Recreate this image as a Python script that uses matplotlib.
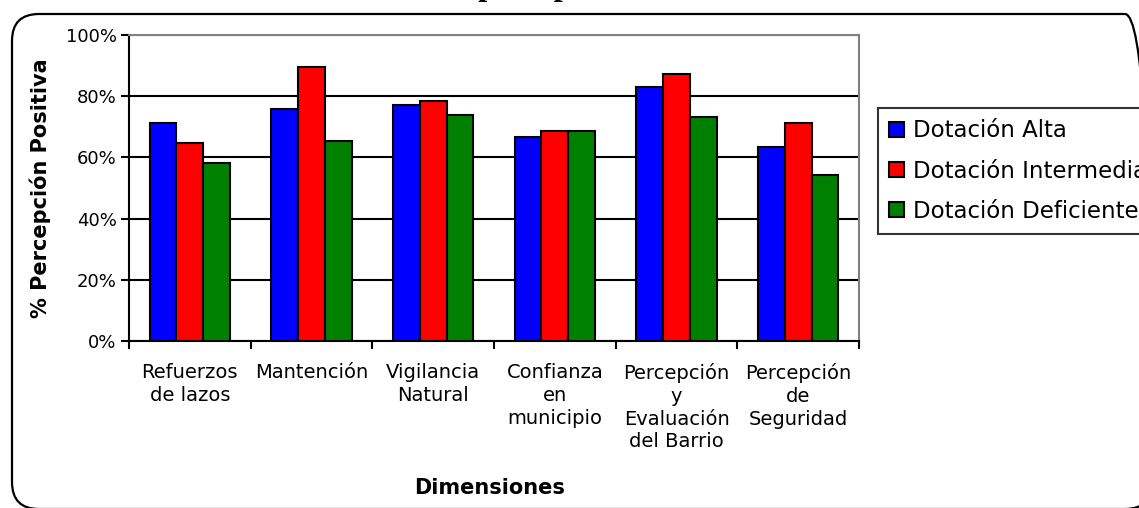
import matplotlib
matplotlib.use("Agg")
import matplotlib.pyplot as plt
import numpy as np
from matplotlib.patches import FancyBboxPatch

categories = ["Refuerzos\nde lazos", "Mantención", "Vigilancia\nNatural",
              "Confianza\nen\nmunicipio", "Percepción\ny\nEvaluación\ndel Barrio",
              "Percepción\nde\nSeguridad"]
series_names = ["Dotación Alta", "Dotación Intermedia", "Dotación Deficiente"]
alta = [71.3, 75.9, 77.2, 66.8, 83.1, 63.5]
intermedia = [64.8, 89.6, 78.5, 68.7, 87.1, 71.3]
deficiente = [58.3, 65.5, 74.0, 68.7, 73.3, 54.3]
yticks = [0, 20, 40, 60, 80, 100]
ytick_labels = ["0%", "20%", "40%", "60%", "80%", "100%"]
title = "Nivel de percepción"
ylabel = "% Percepción Positiva"
xlabel = "Dimensiones"
colors = ["#0000FF", "#FF0000", "#008000"]

W, H = 1139, 508
fig = plt.figure(figsize=(W / 100, H / 100), dpi=100)
plt.rcParams['font.family'] = ['DejaVu Sans']

ax = fig.add_axes([129 / W, 1 - 341 / H, (859 - 129) / W, (341 - 35) / H])

x = np.arange(len(categories))
bw = 0.221
for i, (vals, c, name) in enumerate(zip([alta, intermedia, deficiente], colors, series_names)):
    ax.bar(x + (i - 1) * bw, vals, width=bw, color=c, edgecolor="black",
           linewidth=1.5, label=name, zorder=3)

ax.set_xlim(-0.5, len(categories) - 0.5)
ax.set_ylim(0, 100)
ax.set_yticks(yticks)
ax.set_yticklabels(ytick_labels, fontsize=13)
ax.yaxis.grid(True, color="black", linewidth=1.5, zorder=0)
ax.set_axisbelow(True)

ax.set_xticks(np.arange(-0.5, len(categories), 1.0))
ax.set_xticklabels([])
ax.set_xticks(x, minor=True)
ax.set_xticklabels(categories, minor=True, fontsize=14, linespacing=1.25)
ax.tick_params(axis="x", which="minor", length=0, pad=16)
ax.tick_params(axis="x", which="major", length=6, width=1.5, direction="out")
ax.tick_params(axis="y", length=6, width=1.5, direction="out", pad=3)

for s in ["left", "bottom"]:
    ax.spines[s].set_color("black")
    ax.spines[s].set_linewidth(1.5)
for s in ["top", "right"]:
    ax.spines[s].set_color("#808080")
    ax.spines[s].set_linewidth(1.5)

fig.text(40 / W, 1 - 188 / H, ylabel, rotation=90, ha="center", va="center",
         fontsize=15, fontweight="bold")
fig.text(490 / W, 1 - 488 / H, xlabel, ha="center", va="center",
         fontsize=15, fontweight="bold")
fig.text(493 / W, 1 + 5 / H, title, ha="center", va="baseline",
         fontsize=23.5, fontweight="bold", family="Liberation Serif")

leg = fig.legend(loc="upper left", bbox_to_anchor=(878 / W, 1 - 108 / H),
                 fontsize=16.5, frameon=True, fancybox=False, edgecolor="black",
                 handlelength=0.62, handleheight=0.62, handletextpad=0.4,
                 labelspacing=0.75, borderpad=0.5, borderaxespad=0)
leg.get_frame().set_linewidth(1.5)

frame = FancyBboxPatch((0.12, -0.01), 11.40, 4.95,
                       boxstyle="round,pad=0,rounding_size=0.27",
                       transform=fig.dpi_scale_trans, facecolor="none",
                       edgecolor="black", linewidth=1.6)
fig.add_artist(frame)

fig.savefig("out.png", dpi=100)
